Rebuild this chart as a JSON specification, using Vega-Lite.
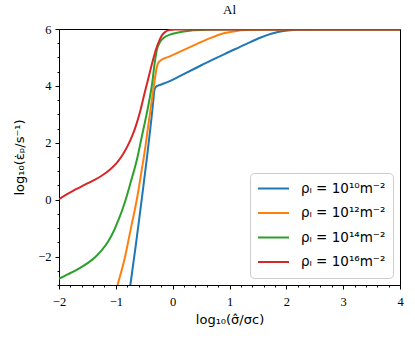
{
  "$schema": "https://vega.github.io/schema/vega-lite/v6.json",
  "width": 341,
  "height": 256,
  "autosize": {"type": "none"},
  "padding": {"left": 59, "top": 29, "right": 15, "bottom": 59},
  "background": "white",
  "title": {"text": "Al", "font": "Liberation Serif", "fontSize": 13, "fontWeight": "normal", "color": "black", "anchor": "middle", "offset": 6},
  "config": {
    "view": {"stroke": "black", "strokeWidth": 1},
    "axis": {"domainColor": "black", "domainWidth": 1, "tickColor": "black", "tickWidth": 1, "labelColor": "black", "titleColor": "black", "grid": false, "labelFont": "Liberation Serif", "labelFontSize": 12.5, "titleFont": "DejaVu Sans", "titleFontSize": 13, "titleFontWeight": "normal", "labelOverlap": false, "labelFlush": false}
  },
  "data": {"values": [
    {"s": "b", "x": -0.80, "y": -3.6},
    {"s": "b", "x": -0.745, "y": -3.0},
    {"s": "b", "x": -0.70, "y": -2.35},
    {"s": "b", "x": -0.65, "y": -1.62},
    {"s": "b", "x": -0.60, "y": -0.85},
    {"s": "b", "x": -0.55, "y": -0.08},
    {"s": "b", "x": -0.50, "y": 0.72},
    {"s": "b", "x": -0.45, "y": 1.52},
    {"s": "b", "x": -0.40, "y": 2.38},
    {"s": "b", "x": -0.36, "y": 3.1},
    {"s": "b", "x": -0.34, "y": 3.5},
    {"s": "b", "x": -0.325, "y": 3.8},
    {"s": "b", "x": -0.31, "y": 3.92},
    {"s": "b", "x": -0.28, "y": 3.99},
    {"s": "b", "x": -0.2, "y": 4.05},
    {"s": "b", "x": -0.05, "y": 4.17},
    {"s": "b", "x": 0.15, "y": 4.37},
    {"s": "b", "x": 0.4, "y": 4.62},
    {"s": "b", "x": 0.66, "y": 4.88},
    {"s": "b", "x": 1.0, "y": 5.2},
    {"s": "b", "x": 1.3, "y": 5.48},
    {"s": "b", "x": 1.55, "y": 5.7},
    {"s": "b", "x": 1.75, "y": 5.84},
    {"s": "b", "x": 1.95, "y": 5.93},
    {"s": "b", "x": 2.2, "y": 5.97},
    {"s": "b", "x": 2.6, "y": 5.98},
    {"s": "b", "x": 4.0, "y": 5.98},
    {"s": "o", "x": -1.0, "y": -3.25},
    {"s": "o", "x": -0.97, "y": -3.0},
    {"s": "o", "x": -0.90, "y": -2.5},
    {"s": "o", "x": -0.84, "y": -2.03},
    {"s": "o", "x": -0.78, "y": -1.45},
    {"s": "o", "x": -0.72, "y": -0.86},
    {"s": "o", "x": -0.66, "y": -0.3},
    {"s": "o", "x": -0.60, "y": 0.35},
    {"s": "o", "x": -0.55, "y": 0.98},
    {"s": "o", "x": -0.49, "y": 1.72},
    {"s": "o", "x": -0.43, "y": 2.6},
    {"s": "o", "x": -0.37, "y": 3.45},
    {"s": "o", "x": -0.32, "y": 4.15},
    {"s": "o", "x": -0.28, "y": 4.65},
    {"s": "o", "x": -0.25, "y": 4.82},
    {"s": "o", "x": -0.2, "y": 4.91},
    {"s": "o", "x": -0.05, "y": 5.04},
    {"s": "o", "x": 0.15, "y": 5.22},
    {"s": "o", "x": 0.4, "y": 5.45},
    {"s": "o", "x": 0.66, "y": 5.68},
    {"s": "o", "x": 0.9, "y": 5.85},
    {"s": "o", "x": 1.15, "y": 5.94},
    {"s": "o", "x": 1.4, "y": 5.97},
    {"s": "o", "x": 1.8, "y": 5.98},
    {"s": "o", "x": 4.0, "y": 5.98},
    {"s": "g", "x": -2.0, "y": -2.78},
    {"s": "g", "x": -1.85, "y": -2.63},
    {"s": "g", "x": -1.72, "y": -2.5},
    {"s": "g", "x": -1.55, "y": -2.3},
    {"s": "g", "x": -1.37, "y": -2.03},
    {"s": "g", "x": -1.25, "y": -1.78},
    {"s": "g", "x": -1.13, "y": -1.45},
    {"s": "g", "x": -1.04, "y": -1.12},
    {"s": "g", "x": -0.96, "y": -0.74},
    {"s": "g", "x": -0.89, "y": -0.38},
    {"s": "g", "x": -0.83, "y": -0.02},
    {"s": "g", "x": -0.74, "y": 0.6},
    {"s": "g", "x": -0.63, "y": 1.4},
    {"s": "g", "x": -0.55, "y": 2.15},
    {"s": "g", "x": -0.48, "y": 2.8},
    {"s": "g", "x": -0.42, "y": 3.4},
    {"s": "g", "x": -0.36, "y": 4.1},
    {"s": "g", "x": -0.32, "y": 4.75},
    {"s": "g", "x": -0.28, "y": 5.25},
    {"s": "g", "x": -0.22, "y": 5.55},
    {"s": "g", "x": -0.15, "y": 5.7},
    {"s": "g", "x": -0.05, "y": 5.8},
    {"s": "g", "x": 0.1, "y": 5.88},
    {"s": "g", "x": 0.3, "y": 5.94},
    {"s": "g", "x": 0.6, "y": 5.97},
    {"s": "g", "x": 1.0, "y": 5.98},
    {"s": "g", "x": 4.0, "y": 5.98},
    {"s": "r", "x": -2.0, "y": 0.02},
    {"s": "r", "x": -1.85, "y": 0.2},
    {"s": "r", "x": -1.7, "y": 0.37},
    {"s": "r", "x": -1.55, "y": 0.52},
    {"s": "r", "x": -1.4, "y": 0.67},
    {"s": "r", "x": -1.25, "y": 0.84},
    {"s": "r", "x": -1.1, "y": 1.06},
    {"s": "r", "x": -0.98, "y": 1.3},
    {"s": "r", "x": -0.88, "y": 1.58},
    {"s": "r", "x": -0.79, "y": 1.9},
    {"s": "r", "x": -0.71, "y": 2.25},
    {"s": "r", "x": -0.64, "y": 2.64},
    {"s": "r", "x": -0.57, "y": 3.12},
    {"s": "r", "x": -0.5, "y": 3.7},
    {"s": "r", "x": -0.42, "y": 4.33},
    {"s": "r", "x": -0.35, "y": 4.88},
    {"s": "r", "x": -0.29, "y": 5.3},
    {"s": "r", "x": -0.23, "y": 5.62},
    {"s": "r", "x": -0.18, "y": 5.8},
    {"s": "r", "x": -0.13, "y": 5.9},
    {"s": "r", "x": -0.06, "y": 5.96},
    {"s": "r", "x": 0.05, "y": 5.98},
    {"s": "r", "x": 4.0, "y": 5.98}
  ]},
  "mark": {"type": "line", "clip": true, "strokeWidth": 2, "interpolate": "monotone"},
  "encoding": {
    "x": {
      "field": "x", "type": "quantitative",
      "scale": {"domain": [-2, 4], "nice": false, "zero": false},
      "axis": {
        "title": "log₁₀(σ̂/σc)",
        "values": [-2, -1.8, -1.6, -1.4, -1.2, -1, -0.8, -0.6, -0.4, -0.2, 0, 0.2, 0.4, 0.6, 0.8, 1, 1.2, 1.4, 1.6, 1.8, 2, 2.2, 2.4, 2.6, 2.8, 3, 3.2, 3.4, 3.6, 3.8, 4],
        "labelExpr": "datum.value % 1 === 0 ? format(datum.value, 'd') : ''",
        "tickSize": {"condition": {"test": "datum.value % 1 === 0", "value": 4}, "value": 2},
        "labelPadding": 6,
        "titlePadding": 6
      }
    },
    "y": {
      "field": "y", "type": "quantitative",
      "scale": {"domain": [-3, 6], "nice": false, "zero": false},
      "axis": {
        "title": "log₁₀(ε̇ₚ/s⁻¹)",
        "values": [-3, -2.5, -2, -1.5, -1, -0.5, 0, 0.5, 1, 1.5, 2, 2.5, 3, 3.5, 4, 4.5, 5, 5.5, 6],
        "labelExpr": "datum.value % 2 === 0 ? format(datum.value, 'd') : ''",
        "tickSize": {"condition": {"test": "datum.value % 2 === 0", "value": 4}, "value": 2},
        "labelPadding": 4,
        "titlePadding": 11
      }
    },
    "color": {
      "field": "s", "type": "nominal",
      "scale": {"domain": ["b", "o", "g", "r"], "range": ["#1f77b4", "#ff7f0e", "#2ca02c", "#d62728"]},
      "legend": {
        "title": null,
        "orient": "bottom-right",
        "offset": 7,
        "fillColor": "white",
        "strokeColor": "#cccccc",
        "cornerRadius": 4,
        "padding": 7,
        "symbolType": "stroke",
        "symbolSize": 961,
        "symbolStrokeWidth": 2,
        "labelFont": "DejaVu Sans",
        "labelFontSize": 13.5,
        "labelColor": "black",
        "labelOffset": 11,
        "clipHeight": 17,
        "rowPadding": 7.5,
        "labelExpr": "{'b': 'ρₗ = 10¹⁰m⁻²', 'o': 'ρₗ = 10¹²m⁻²', 'g': 'ρₗ = 10¹⁴m⁻²', 'r': 'ρₗ = 10¹⁶m⁻²'}[datum.value]"
      }
    }
  }
}
